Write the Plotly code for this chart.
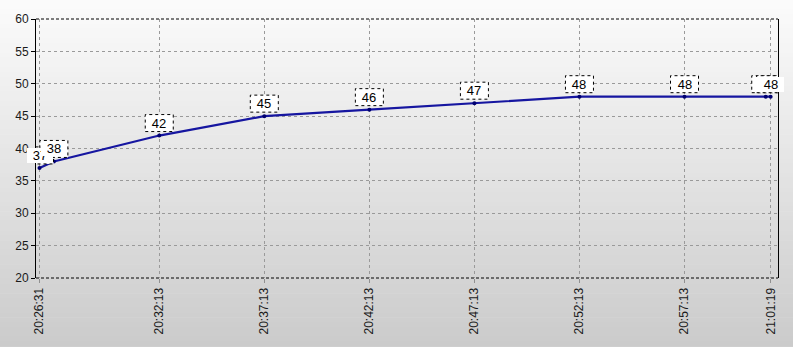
import plotly.graph_objects as go

DAY = "2024-01-01 "
times = ["20:26:31", "20:27:12", "20:32:13", "20:37:13", "20:42:13",
         "20:47:13", "20:52:13", "20:57:13", "21:01:05", "21:01:19"]
values = [37, 38, 42, 45, 46, 47, 48, 48, 48, 48]
tick_labels = ["20:26:31", "20:32:13", "20:37:13", "20:42:13",
               "20:47:13", "20:52:13", "20:57:13", "21:01:19"]
y_ticks = [20, 25, 30, 35, 40, 45, 50, 55, 60]

W, H = 793, 347
ML, MR, MT, MB = 36, 15, 15, 69
FONT = "Liberation Sans, Arial, sans-serif"

x = [DAY + t for t in times]

fig = go.Figure()
fig.add_trace(go.Scatter(
    x=x, y=values, mode="lines+markers",
    line=dict(color="#1616a0", width=2.2),
    marker=dict(color="#000070", size=4),
    hoverinfo="skip", showlegend=False,
))

shapes = []
# vertical gradient background
plot_h = H - MT - MB
nb = 75
top_px, bot_px = -10, H + 10
for i in range(nb):
    py0 = top_px + (bot_px - top_px) * i / nb
    py1 = top_px + (bot_px - top_px) * (i + 1) / nb + 0.6
    f = min(max((py0 + py1) / 2 / H, 0), 1)
    c = int(round(251 - (251 - 203) * f))
    shapes.append(dict(type="rect", xref="paper", yref="paper", layer="below",
                       x0=-ML / (W - ML - MR) - 0.02, x1=1 + MR / (W - ML - MR) + 0.02,
                       y0=(H - MB - py1) / plot_h, y1=(H - MB - py0) / plot_h,
                       line=dict(width=0), fillcolor=f"rgb({c},{c},{c})"))
# dashed top / bottom frame
for yy in (0, 1):
    shapes.append(dict(type="line", xref="paper", yref="paper", x0=0, x1=1, y0=yy, y1=yy,
                       line=dict(color="black", width=1, dash="3px,2px")))
# dotted label boxes
annotations = []
for t, v in zip(x, values):
    shapes.append(dict(type="rect", xref="x", yref="y",
                       xsizemode="pixel", ysizemode="pixel",
                       xanchor=t, yanchor=v, x0=-14, x1=14, y0=4, y1=21,
                       fillcolor="white", line=dict(color="black", width=1, dash="dot")))
    annotations.append(dict(x=t, y=v, xref="x", yref="y", text=str(v),
                            showarrow=False, xanchor="center", yanchor="bottom",
                            yshift=5, width=26, height=15, bgcolor="white",
                            borderwidth=0, borderpad=0,
                            font=dict(family=FONT, size=13, color="black")))

fig.update_layout(
    width=W, height=H,
    margin=dict(l=ML, r=MR, t=MT, b=MB),
    paper_bgcolor="rgb(251,251,251)",
    plot_bgcolor="rgba(0,0,0,0)",
    shapes=shapes,
    annotations=annotations,
    font=dict(family=FONT, size=12, color="#1a1a1a"),
    xaxis=dict(type="date",
               range=[DAY + "20:26:21", DAY + "21:01:40"],
               tickvals=[DAY + t for t in tick_labels], ticktext=tick_labels,
               tickangle=-90, showgrid=True, gridcolor="#9a9a9a", griddash="3px,3px",
               gridwidth=1, ticks="outside", ticklen=4, tickcolor="#909090",
               showline=False, zeroline=False, fixedrange=True),
    yaxis=dict(range=[20, 60], tickvals=y_ticks, showgrid=True,
               gridcolor="#9a9a9a", griddash="3px,3px", gridwidth=1,
               ticks="outside", ticklen=4, tickcolor="black",
               showline=True, linecolor="black", linewidth=1, mirror=True,
               zeroline=False, fixedrange=True),
)

fig.write_html("out.html")
